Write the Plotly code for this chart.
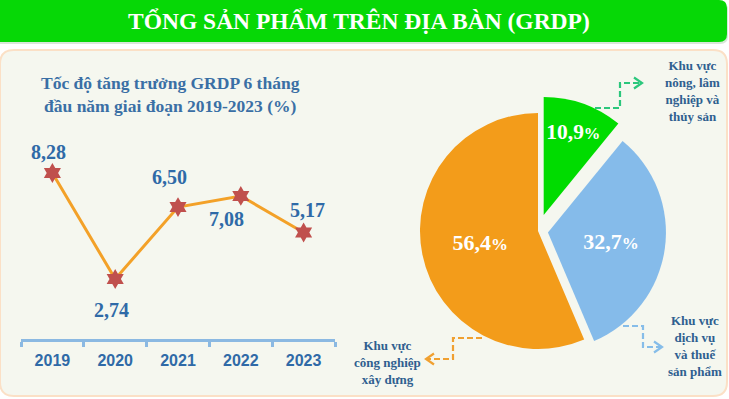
import plotly.graph_objects as go

W, H = 729, 399

# ---------------- data ----------------
header_title = "TỔNG SẢN PHẨM TRÊN ĐỊA BÀN (GRDP)"
line_title = "Tốc độ tăng trưởng GRDP 6 tháng<br>đầu năm giai đoạn 2019-2023 (%)"
years = ["2019", "2020", "2021", "2022", "2023"]
growth = [8.28, 2.74, 6.50, 7.08, 5.17]
label_dx = [-4, -4, -9, -14, 4]
label_dy = [21, -31, 30, -23, 23]

sectors = ["Khu vực nông, lâm nghiệp và thủy sản",
           "Khu vực dịch vụ và thuế sản phẩm",
           "Khu vực công nghiệp xây dựng"]
sector_label_lines = ["Khu vực<br>nông, lâm<br>nghiệp và<br>thủy sản",
                      "Khu vực<br>dịch vụ<br>và thuế<br>sản phẩm",
                      "Khu vực<br>công nghiệp<br>xây dựng"]
shares = [10.9, 32.7, 56.4]
pulls = [0.144, 0.085, 0.0]
slice_colors = ["#00dc00", "#85bbea", "#f39c1a"]
arrow_colors = ["#2bc77c", "#86bde9", "#f0a030"]

SERIF = "Liberation Serif"
SANS = "Liberation Sans"
BLUE = "#2f6aa7"


def px(x):
    return x / W


def py(y):
    return 1 - y / H


def path(points, close=False):
    s = "M " + " L ".join(f"{px(x):.5f},{py(y):.5f}" for x, y in points)
    return s + (" Z" if close else "")


def rrect(x0, y0, x1, y1, rl, rr):
    p = []
    p.append(f"M {px(x0 + rl):.5f},{py(y0):.5f}")
    p.append(f"L {px(x1 - rr):.5f},{py(y0):.5f}")
    p.append(f"Q {px(x1):.5f},{py(y0):.5f} {px(x1):.5f},{py(y0 + rr):.5f}")
    p.append(f"L {px(x1):.5f},{py(y1 - rr):.5f}")
    p.append(f"Q {px(x1):.5f},{py(y1):.5f} {px(x1 - rr):.5f},{py(y1):.5f}")
    p.append(f"L {px(x0 + rl):.5f},{py(y1):.5f}")
    p.append(f"Q {px(x0):.5f},{py(y1):.5f} {px(x0):.5f},{py(y1 - rl):.5f}")
    p.append(f"L {px(x0):.5f},{py(y0 + rl):.5f}")
    p.append(f"Q {px(x0):.5f},{py(y0):.5f} {px(x0 + rl):.5f},{py(y0):.5f}")
    return " ".join(p) + " Z"


fig = go.Figure()

# ---------------- line chart ----------------
fig.add_trace(go.Scatter(
    x=years, y=growth, mode="lines+markers",
    line=dict(color="#f3a128", width=3),
    marker=dict(symbol="hexagram", size=15, color="#c0504d",
                line=dict(width=0)),
    hoverinfo="skip", showlegend=False, cliponaxis=False,
    xaxis="x", yaxis="y",
))

for i, (v, dx, dy) in enumerate(zip(growth, label_dx, label_dy)):
    fig.add_annotation(
        x=i, y=v, xref="x", yref="y", text=f"{v:.2f}".replace(".", ","),
        showarrow=False, xshift=dx, yshift=dy,
        xanchor="center", yanchor="middle",
        font=dict(family=SERIF, size=20, color=BLUE, weight="bold"),
    )

# ---------------- pie chart ----------------
pie_half = 118 * (1 + max(pulls))
cx, cy = 538, 231
fig.add_trace(go.Pie(
    values=shares, labels=sectors, sort=False, direction="clockwise",
    rotation=0, pull=pulls,
    marker=dict(colors=slice_colors, line=dict(width=0)),
    texttemplate="%{value:.1f}<span style=\"font-size:17px\">%</span>",
    textposition="inside",
    insidetextorientation="horizontal",
    textfont=dict(family=SERIF, size=22, color="white", weight="bold"),
    domain=dict(x=[px(cx - pie_half), px(cx + pie_half)],
                y=[py(cy + pie_half), py(cy - pie_half)]),
    hoverinfo="skip", showlegend=False,
))

# ---------------- background shapes ----------------
shapes = []
shapes.append(dict(type="path", xref="paper", yref="paper", layer="below",
                   path=rrect(0, 50, 727, 396, 14, 14),
                   fillcolor="#f5f7ef", line=dict(color="#fbe0c6", width=2)))
shapes.append(dict(type="path", xref="paper", yref="paper", layer="below",
                   path=rrect(0, 2, 728, 44, 0, 8),
                   fillcolor="#d9e6d9", line=dict(width=0)))
shapes.append(dict(type="path", xref="paper", yref="paper", layer="below",
                   path=rrect(0, 0, 727, 42, 0, 8),
                   fillcolor="#06d806", line=dict(width=0)))

leaders = [
    [(595, 108), (620, 108), (620, 83), (642, 83)],
    [(623, 326), (643, 326), (643, 347), (662, 347)],
    [(482, 338), (453, 338), (453, 359), (426, 359)],
]
heads = [
    [(634, 77.5), (642, 83), (634, 88.5)],
    [(654, 341.5), (662, 347), (654, 352.5)],
    [(434, 353.5), (426, 359), (434, 364.5)],
]
for pts, hd, col in zip(leaders, heads, arrow_colors):
    shapes.append(dict(type="path", xref="paper", yref="paper", layer="above",
                       path=path(pts), line=dict(color=col, width=2.2, dash="6px,3px")))
    shapes.append(dict(type="path", xref="paper", yref="paper", layer="above",
                       path=path(hd), line=dict(color=col, width=2.2)))

# ---------------- texts ----------------
fig.add_annotation(x=px(358.5), y=py(21), xref="paper", yref="paper",
                   text=header_title, showarrow=False,
                   xanchor="center", yanchor="middle",
                   font=dict(family=SERIF, size=23.5, color="white", weight="bold"))
fig.add_annotation(x=px(170), y=py(94), xref="paper", yref="paper",
                   text=line_title, showarrow=False,
                   xanchor="center", yanchor="middle",
                   font=dict(family=SERIF, size=17.5, color="#3a6fa5", weight="bold"))

sector_pos = [(692, 91), (695, 346), (387, 362)]
for txt, (x, y) in zip(sector_label_lines, sector_pos):
    fig.add_annotation(x=px(x), y=py(y), xref="paper", yref="paper",
                       text=txt, showarrow=False, align="center",
                       xanchor="center", yanchor="middle",
                       font=dict(family=SERIF, size=13, color="#2f5f90", weight="bold"))

# ---------------- layout ----------------
y_bottom_px, y_top_px = 339, 140
scale = (279 - 173) / (8.28 - 2.74)
ymin = 2.74 - (y_bottom_px - 279) / scale
ymax = 8.28 + (173 - y_top_px) / scale

fig.update_layout(
    width=W, height=H, margin=dict(l=0, r=0, t=0, b=0),
    paper_bgcolor="white", plot_bgcolor="rgba(0,0,0,0)",
    separators=",.",
    shapes=shapes,
    xaxis=dict(type="category", domain=[px(21), px(335)], range=[-0.5, 4.5],
               showline=True, linecolor="#8bb9e2", linewidth=3,
               ticks="outside", tickson="boundaries", ticklen=5, tickwidth=3,
               tickcolor="#8bb9e2", showgrid=False, zeroline=False,
               tickfont=dict(family=SANS, size=16, color=BLUE, weight="bold"),
               ticklabelstandoff=5, fixedrange=True),
    yaxis=dict(domain=[py(y_bottom_px), py(y_top_px)], range=[ymin, ymax],
               visible=False, fixedrange=True),
)

fig.write_html("out.html", config={"displayModeBar": False},
               post_script="document.body.style.margin='0px';")
